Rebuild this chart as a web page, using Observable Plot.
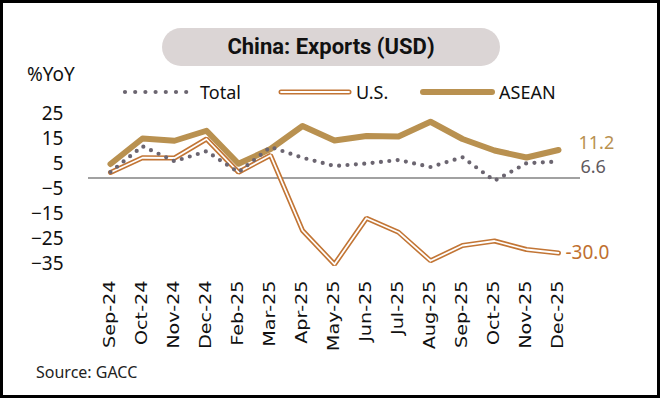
<!DOCTYPE html>
<html>
<head>
<meta charset="utf-8">
<script src="https://cdn.jsdelivr.net/npm/d3@7"></script>
<script src="https://cdn.jsdelivr.net/npm/@observablehq/plot@0.6"></script>
<style>
  html, body { margin: 0; padding: 0; background: #fff; }
  #wrap { position: relative; width: 660px; height: 398px; overflow: hidden; background: #fff; font-family: "Noto Sans", sans-serif; color: #111; }
  #frame { position: absolute; left: 0; top: 0; width: 660px; height: 398px; box-sizing: border-box; border: 3px solid #000; pointer-events: none; }
  .abs { position: absolute; white-space: nowrap; line-height: 1; }
  #title { left: 162px; top: 28px; width: 338px; height: 38px; border-radius: 19px; background: #dbd5d5; text-align: center; line-height: 38px; font-family: Roboto, "Noto Sans", sans-serif; font-weight: 700; font-size: 22px; color: #111; }
  #chart { position: absolute; left: 0; top: 95px; }
  #chart svg { overflow: visible; }
</style>
</head>
<body>
<div id="wrap">
  <div id="title" class="abs">China: Exports (USD)</div>
  <div class="abs" style="left:27px; top:65px; font-size:19px;">%YoY</div>
  <div id="legend"></div>
  <div id="chart"></div>
  <div class="abs" style="left:36px; top:364px; font-size:16px; color:#222;">Source: GACC</div>
  <div id="frame"></div>
</div>
<script>
// ---- data ----
const months = ["Sep-24","Oct-24","Nov-24","Dec-24","Feb-25","Mar-25","Apr-25","May-25","Jun-25","Jul-25","Aug-25","Sep-25","Oct-25","Nov-25","Dec-25"];
const totalYoY = [2.4, 12.7, 6.7, 10.7, 2.3, 12.4, 8.1, 4.8, 5.8, 7.2, 4.4, 8.3, -1.1, 5.9, 6.6];
const usYoY    = [2.2, 8.1, 8.0, 15.6, 2.3, 9.1, -21.0, -34.5, -16.1, -21.7, -33.1, -27.0, -25.2, -28.6, -30.0];
const aseanYoY = [5.6, 15.8, 14.9, 18.9, 5.7, 11.6, 20.8, 15.0, 16.8, 16.6, 22.5, 15.6, 11.0, 8.2, 11.2];
const yTicks = [25, 15, 5, -5, -15, -25, -35];
const seriesNames = ["Total", "U.S.", "ASEAN"];

const colors = { total: "#6b6570", us: "#c27535", asean: "#b99150" };

const data = months.map((m, i) => ({ month: m, total: totalYoY[i], us: usYoY[i], asean: aseanYoY[i] }));
const last = data[data.length - 1];

// ---- legend (HTML) ----
const legend = document.getElementById("legend");
function addSwatch(left, width, kind) {
  const ns = "http://www.w3.org/2000/svg";
  const s = document.createElementNS(ns, "svg");
  s.setAttribute("width", width); s.setAttribute("height", 14);
  s.style.position = "absolute"; s.style.left = left + "px"; s.style.top = "85px";
  const mk = (stroke, sw, extra) => {
    const l = document.createElementNS(ns, "line");
    l.setAttribute("x1", 3); l.setAttribute("x2", width - 3);
    l.setAttribute("y1", 7); l.setAttribute("y2", 7);
    l.setAttribute("stroke", stroke); l.setAttribute("stroke-width", sw);
    l.setAttribute("stroke-linecap", "round");
    if (extra) for (const k in extra) l.setAttribute(k, extra[k]);
    s.appendChild(l);
  };
  if (kind === "total") mk(colors.total, 4.2, { "stroke-dasharray": "0 10.2" });
  if (kind === "us") { mk(colors.us, 5); mk("#fff", 1.8); }
  if (kind === "asean") mk(colors.asean, 6);
  legend.appendChild(s);
}
function addLabel(left, text) {
  const d = document.createElement("div");
  d.className = "abs"; d.style.left = left + "px"; d.style.top = "83px"; d.style.fontSize = "18px";
  d.textContent = text; legend.appendChild(d);
}
addSwatch(122, 68, "total"); addLabel(200, seriesNames[0]);
addSwatch(278, 74, "us");    addLabel(356, seriesNames[1]);
addSwatch(420, 75, "asean"); addLabel(499, seriesNames[2]);

// ---- chart ----
const chart = Plot.plot({
  width: 660,
  height: 265,
  marginTop: 20,
  marginBottom: 95,
  marginLeft: 104,
  marginRight: 97,
  style: { background: "transparent", overflow: "visible", fontFamily: "Noto Sans" },
  x: { type: "point", domain: months, padding: 0, label: null },
  y: { domain: [-35, 25], label: null },
  marks: [
    Plot.axisY({ ticks: yTicks, tickSize: 0, tickPadding: 41, fontSize: 19, fill: "#111", dy: -2, label: null }),
    Plot.axisX({ tickSize: 0, tickRotate: -90, tickPadding: 15, fontSize: 15, fontFamily: "DejaVu Sans", fill: "#111", label: null }),
    Plot.ruleY([0], { stroke: "#444", strokeWidth: 1.2, insetLeft: -16, insetRight: -17 }),
    Plot.line(data, { x: "month", y: "us", stroke: colors.us, strokeWidth: 5, strokeLinejoin: "miter" }),
    Plot.line(data, { x: "month", y: "us", stroke: "#fff", strokeWidth: 1.8 }),
    Plot.line(data, { x: "month", y: "asean", stroke: colors.asean, strokeWidth: 6, strokeLinecap: "round", strokeLinejoin: "round" }),
    Plot.line(data, { x: "month", y: "total", stroke: colors.total, strokeWidth: 4.2, strokeDasharray: "0 8.4", strokeLinecap: "round" }),
    Plot.text([last], { x: "month", y: "asean", text: d => d.asean.toFixed(1), fill: colors.asean, fontSize: 18, textAnchor: "start", dx: 20, dy: -7 }),
    Plot.text([last], { x: "month", y: "total", text: d => d.total.toFixed(1), fill: "#5f5a5f", fontSize: 18, textAnchor: "start", dx: 22, dy: 6 }),
    Plot.text([last], { x: "month", y: "us", text: d => d.us.toFixed(1), fill: "#c0702f", fontSize: 19, textAnchor: "start", dx: 7, dy: 0 })
  ]
});
document.getElementById("chart").appendChild(chart);

// stretch the rotated month labels lengthwise, as in the reference
chart.querySelectorAll('g[aria-label="x-axis tick label"] text').forEach(t => {
  const tr = t.getAttribute("transform") || "";
  t.setAttribute("transform", tr + " scale(1.28,1)");
});
</script>
</body>
</html>
